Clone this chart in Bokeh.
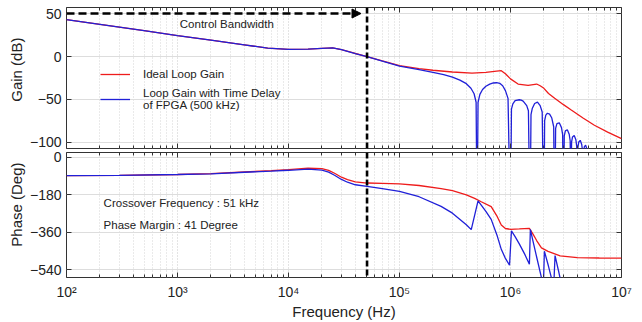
from bokeh.plotting import figure
from bokeh.layouts import column
from bokeh.models import (Range1d, FixedTicker, Span, Arrow, NormalHead, Label, Legend,
                          LegendItem, CustomJSTickFormatter, LinearAxis, LogAxis)
from bokeh.embed import file_html
from bokeh.resources import INLINE

FONT = "Liberation Sans"
RED = "#ee1c1c"
BLUE = "#2020d8"

# ---------------- data ----------------
ideal_gain_hz = [100, 200, 500, 1000, 2000, 4000, 6500, 10000, 15000, 20000, 25000, 30000,
                 40000, 51000, 70000, 100000, 150000, 200000, 300000, 450000, 600000, 750000,
                 826000, 900000, 1000000, 1170000, 1440000, 1720000, 1850000, 2000000, 2200000,
                 2500000, 3000000, 3500000, 4500000, 5700000, 7500000, 10000000]
ideal_gain_db = [43, 37.4, 30, 24.4, 19, 13.6, 9.7, 8.2, 8.5, 9.5, 10, 8,
                 3.5, 0, -5, -10.5, -14, -16, -18, -19.4, -18.5, -17,
                 -16.5, -20, -26, -32, -33.7, -32, -34, -37, -43,
                 -48.5, -56, -62, -71.5, -80, -88, -95.5]

delay_gain_hz = [100, 200, 500, 1000, 2000, 4000, 6500, 10000, 15000, 20000, 25000, 30000,
                 40000, 51000, 70000, 100000, 150000, 200000, 250000, 300000, 350000, 400000,
                 440000, 470000, 490000, 500000,
                 510000, 530000, 560000, 600000, 650000, 700000, 750000, 800000, 850000, 900000,
                 950000, 1000000,
                 1020000, 1050000, 1100000, 1200000, 1250000, 1300000, 1400000, 1450000, 1500000,
                 1530000, 1570000, 1650000, 1750000, 1850000, 1930000, 2000000,
                 2030000, 2080000, 2150000, 2250000, 2350000, 2450000, 2500000,
                 2550000, 2620000, 2750000, 2880000, 2950000, 3000000,
                 3050000, 3120000, 3250000, 3380000, 3450000, 3500000,
                 3550000, 3620000, 3750000, 3880000, 3950000, 4000000,
                 4050000, 4120000, 4250000, 4380000, 4450000, 4500000,
                 4620000, 4750000, 4880000, 5000000,
                 5120000, 5250000, 5380000, 5500000]
delay_gain_db = [43, 37.4, 30, 24.4, 19, 13.6, 9.7, 8.2, 8.5, 9.5, 10, 8,
                 3.3, -0.2, -5.3, -11.1, -15.3, -18.4, -21, -23.9, -27.4, -31.6,
                 -36.9, -43.3, -53.2, -200,
                 -53.4, -44, -38.4, -34.6, -32.1, -30.8, -30.5, -31.2, -34, -39.7,
                 -48.7, -200,
                 -61.2, -55.1, -51.4, -50.3, -50.7, -51.9, -57.1, -63, -200,
                 -67.7, -60.5, -54.7, -53, -57.1, -64.6, -200,
                 -74.6, -68.1, -66, -67, -71.2, -81.7, -200,
                 -83.6, -78, -77.1, -82.7, -90.8, -200,
                 -92.4, -86.5, -85.2, -90.4, -98.3, -200,
                 -99.7, -93.6, -91.9, -96.7, -104.5, -200,
                 -105.6, -99.5, -97.5, -102.3, -109, -200,
                 -105.1, -103.1, -107.6, -200,
                 -109.9, -107.8, -112.2, -200]

ideal_phase_hz = [100, 300, 1000, 2000, 4000, 7000, 10000, 15000, 20000, 23000, 26000, 30000,
                  34000, 40000, 51000, 70000, 100000, 150000, 237000, 300000, 400000, 475000,
                  545000, 670000, 760000, 826000, 900000, 1000000, 1200000, 1480000, 1600000,
                  1720000, 1900000, 2180000, 2800000, 4000000, 6300000, 10000000]
ideal_phase_deg = [-87, -86, -82, -78, -70, -63, -58, -51, -54, -62, -76, -95,
                   -107, -117, -123, -125, -127, -135, -150, -160, -180, -197,
                   -213, -237, -285, -325, -342, -346, -344, -341, -370,
                   -400, -435, -452, -474, -482, -484, -485]

delay_phase_hz = [100, 300, 1000, 2000, 4000, 7000, 10000, 15000, 20000, 23000, 26000, 30000,
                  34000, 40000, 51000, 70000, 100000, 150000, 237000, 300000, 400000, 443000,
                  510000, 545000, 600000, 670000, 760000, 826000, 900000, 980000,
                  1020000, 1100000, 1200000, 1350000, 1480000,
                  1510000, 1600000, 1720000, 1900000, 1980000,
                  2020000, 2200000, 2450000,
                  2520000, 2700000, 2950000]
delay_phase_deg = [-87, -86, -82, -79, -71, -65.5, -61.6, -56.4, -61.2, -70.3, -85.4, -105.8,
                   -119.2, -131.4, -139, -150.2, -163, -189, -235.3, -268, -324, -347.5,
                   -208.6, -229.2, -260, -298.2, -378.6, -442.4, -486, -518.8,
                   -353.2, -381, -416, -468, -513.8,
                   -346.6, -406, -479.2, -579, -614.8,
                   -451.2, -524, -624,
                   -472.2, -543, -638]

crossover_hz = 51000
arrow_from_hz, arrow_to_hz, arrow_db = 100, 45000, 50
gain_ticks = [50, 0, -50, -100]
phase_ticks = [0, -180, -360, -540]
decade_ticks = [100, 1000, 10000, 100000, 1000000, 10000000]
minor_decade_ticks = [m * d for d in decade_ticks[:-1] for m in range(2, 10)]

x_range = Range1d(100, 1e7)

sup_formatter = CustomJSTickFormatter(code="""
const sup = {"0":"\u2070","1":"\u00b9","2":"\u00b2","3":"\u00b3","4":"\u2074","5":"\u2075",
             "6":"\u2076","7":"\u2077","8":"\u2078","9":"\u2079"};
const e = String(Math.round(Math.log10(tick)));
let s = "";
for (const c of e) { s += (sup[c] || c); }
return "10" + s;
""")

NB = "\u00a0"


def style_axis(ax, labels=True):
    ax.major_tick_in = 5
    ax.major_tick_out = 0
    ax.minor_tick_in = 3
    ax.minor_tick_out = 0
    ax.axis_line_color = None
    ax.major_tick_line_color = "#333333"
    ax.minor_tick_line_color = "#333333"
    ax.major_label_text_font = FONT
    ax.major_label_text_color = "#222222"
    ax.axis_label_text_font = FONT
    ax.axis_label_text_font_style = "normal"
    ax.axis_label_text_font_size = "15px"
    ax.axis_label_text_color = "#222222"
    ax.major_label_text_font_size = "14px"
    if not labels:
        ax.major_label_text_font_size = "1px"
        ax.major_label_text_alpha = 0
        ax.major_label_standoff = 0


def make_fig(height, y_range, yticks, top, bottom, ylabel):
    p = figure(width=642, height=height, x_axis_type="log", x_range=x_range, y_range=y_range,
               output_backend="svg", toolbar_location=None,
               min_border_left=66, min_border_right=21, min_border_top=top,
               min_border_bottom=bottom)
    p.background_fill_color = "white"
    p.border_fill_color = "white"
    p.outline_line_color = "#333333"
    p.outline_line_width = 1
    xt = FixedTicker(ticks=decade_ticks, minor_ticks=minor_decade_ticks)
    yt = FixedTicker(ticks=yticks)
    p.xaxis.ticker = xt
    p.yaxis.ticker = yt
    p.xgrid.ticker = xt
    p.ygrid.ticker = yt
    p.xgrid.grid_line_color = "#c8c8c8"
    p.xgrid.grid_line_dash = "1 2"
    p.xgrid.minor_grid_line_color = "#d4d4d4"
    p.xgrid.minor_grid_line_dash = "1 2"
    p.ygrid.grid_line_color = "#dddddd"
    for ax in p.yaxis:
        style_axis(ax)
        ax.axis_label = ylabel
        ax.axis_label_standoff = 2
        ax.major_label_standoff = 5
    right = LinearAxis(ticker=yt)
    style_axis(right, labels=False)
    p.add_layout(right, "right")
    above = LogAxis(ticker=xt)
    style_axis(above, labels=False)
    p.add_layout(above, "above")
    p.add_layout(Span(location=crossover_hz, dimension="height", line_color="black",
                      line_width=2.6, line_dash="6 3"))
    return p


# ---------------- gain ----------------
p1 = make_fig(150, Range1d(-107, 57), gain_ticks, 7, 2, NB * 4 + "Gain (dB)")
style_axis(p1.below[0], labels=False)

r_ideal = p1.line(ideal_gain_hz, ideal_gain_db, line_color=RED, line_width=1.3)
r_delay = p1.line(delay_gain_hz, delay_gain_db, line_color=BLUE, line_width=1.3)

p1.add_layout(Arrow(end=NormalHead(size=9, fill_color="black", line_color="black"),
                    x_start=arrow_from_hz, y_start=arrow_db, x_end=arrow_to_hz, y_end=arrow_db,
                    line_color="black", line_width=2.5, line_dash="8 4"))
p1.add_layout(Label(x=2780, y=38, text="Control Bandwidth", text_align="center",
                    text_baseline="middle", text_font=FONT, text_font_size="11.5px",
                    text_color="#222222"))

legend = Legend(items=[LegendItem(label="Ideal Loop Gain", renderers=[r_ideal]),
                       LegendItem(label="Loop Gain with Time Delay\nof FPGA (500 kHz)",
                                  renderers=[r_delay])],
                location=(34, 37), orientation="vertical", glyph_width=30, glyph_height=14,
                label_height=14, label_standoff=13, spacing=6, padding=0, margin=0,
                border_line_color=None, background_fill_alpha=0,
                label_text_font=FONT, label_text_font_size="11.5px",
                label_text_color="#222222")
p1.add_layout(legend)

# ---------------- phase ----------------
p2 = make_fig(172, Range1d(-578, 24), phase_ticks, 2, 44, NB * 5 + "Phase (Deg)")
bx = p2.below[0]
style_axis(bx)
bx.formatter = sup_formatter
bx.axis_label = "Frequency (Hz)"
bx.major_label_standoff = 6
bx.axis_label_standoff = 0

p2.line(ideal_phase_hz, ideal_phase_deg, line_color=RED, line_width=1.3)
p2.line(delay_phase_hz, delay_phase_deg, line_color=BLUE, line_width=1.3)

p2.add_layout(Label(x=216, y=-220, text="Crossover Frequency : 51 kHz", text_baseline="middle",
                    text_font=FONT, text_font_size="11.5px", text_color="#222222"))
p2.add_layout(Label(x=216, y=-325, text="Phase Margin : 41 Degree", text_baseline="middle",
                    text_font=FONT, text_font_size="11.5px", text_color="#222222"))

layout = column(p1, p2, spacing=0)
open("out.html", "w").write(file_html(layout, INLINE))
